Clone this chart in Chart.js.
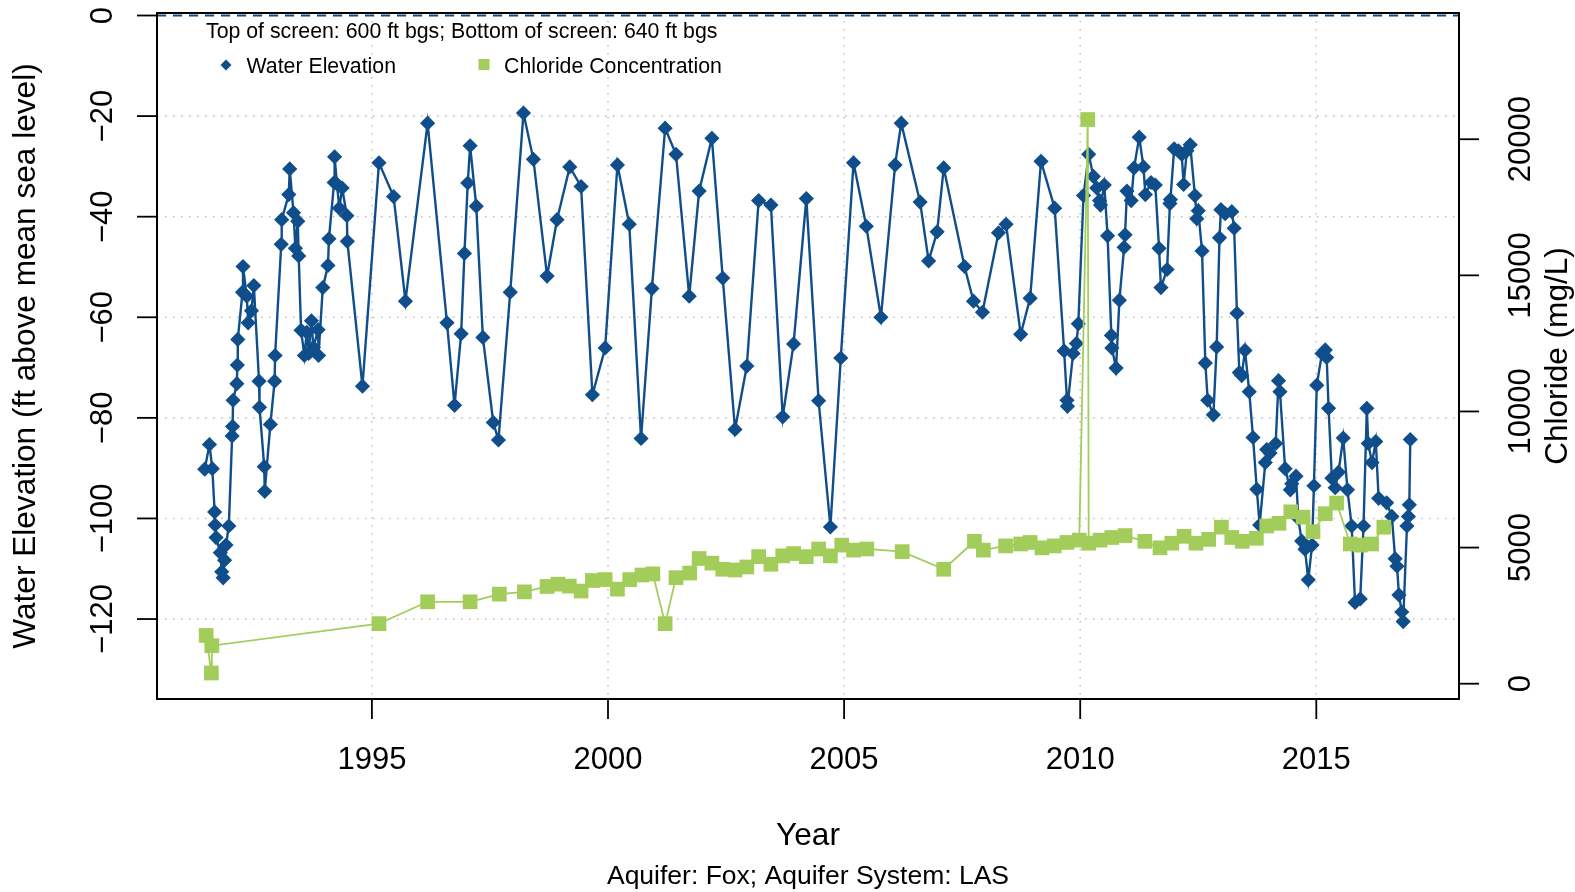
<!DOCTYPE html>
<html>
<head>
<meta charset="utf-8">
<script src="https://cdn.jsdelivr.net/npm/chart.js@4.4.1/dist/chart.umd.min.js"></script>
<style>
html,body{margin:0;padding:0;background:#ffffff;}
canvas{display:block;}
</style>
</head>
<body>
<canvas id="chart" width="1575" height="892"></canvas>
<script>
// ---- data (decimal years) ----
const waterYears = [1991.46,1991.56,1991.62,1991.67,1991.68,1991.70,1991.79,1991.82,1991.85,1991.88,1991.91,1991.97,1992.04,1992.05,1992.06,1992.14,1992.15,1992.16,1992.26,1992.27,1992.35,1992.38,1992.45,1992.50,1992.61,1992.62,1992.72,1992.73,1992.85,1992.94,1992.95,1993.08,1993.09,1993.24,1993.26,1993.34,1993.38,1993.43,1993.45,1993.50,1993.57,1993.62,1993.66,1993.72,1993.76,1993.86,1993.87,1993.96,1994.07,1994.09,1994.20,1994.21,1994.26,1994.31,1994.37,1994.47,1994.48,1994.80,1995.15,
1995.46,1995.71,1996.18,1996.59,1996.75,1996.89,1996.96,1997.03,1997.08,1997.21,1997.35,1997.57,1997.68,1997.93,1998.21,1998.42,1998.71,1998.92,1999.19,1999.43,1999.67,
1999.94,2000.20,2000.45,2000.70,2000.93,2001.21,2001.44,2001.72,2001.93,2002.20,2002.43,2002.69,2002.94,2003.19,2003.45,2003.70,2003.93,
2004.20,2004.46,2004.71,2004.93,2005.20,2005.47,2005.78,2006.08,2006.21,2006.61,2006.79,2006.97,2007.11,2007.55,2007.74,2007.93,2008.27,2008.43,
2008.74,2008.94,2009.17,2009.46,2009.66,2009.72,2009.73,2009.85,2009.92,2009.96,2010.07,2010.18,2010.28,2010.35,2010.41,2010.43,2010.51,2010.58,2010.66,2010.67,2010.76,2010.83,2010.93,2010.95,2010.99,2011.08,2011.14,2011.25,2011.34,2011.38,2011.50,2011.59,2011.67,2011.71,2011.84,2011.90,2011.91,2011.99,2012.08,2012.15,2012.19,2012.26,2012.33,2012.43,2012.47,2012.50,2012.58,2012.65,2012.70,2012.82,2012.89,2012.95,2012.98,
2013.07,2013.21,2013.26,2013.32,2013.37,2013.42,2013.49,2013.58,2013.66,2013.74,2013.80,2013.92,2013.95,2014.02,2014.14,2014.20,2014.23,2014.34,2014.45,2014.48,2014.57,2014.62,2014.69,2014.76,2014.83,2014.91,2014.95,2015.01,2015.12,2015.19,2015.22,2015.26,2015.33,2015.40,2015.47,2015.57,2015.66,2015.75,2015.82,2015.93,2016.00,2016.07,2016.10,2016.18,2016.26,2016.32,2016.49,2016.60,2016.67,2016.71,2016.75,2016.81,2016.84,2016.92,2016.95,2016.97,2016.99];

const waterLevels = [-90.2,-85.3,-90.1,-98.7,-101.3,-103.8,-106.8,-110.6,-111.8,-108.3,-105.3,-101.5,-83.6,-81.7,-76.5,-73.2,-69.5,-64.4,-55.0,-49.9,-55.8,-61.1,-58.7,-53.7,-72.7,-77.9,-89.7,-94.6,-81.3,-72.7,-67.6,-45.5,-40.6,-35.6,-30.5,-39.2,-46.3,-40.9,-47.8,-62.6,-67.6,-63.0,-67.2,-60.7,-66.0,-62.5,-67.6,-54.1,-49.7,-44.4,-33.2,-28.1,-33.5,-38.3,-34.3,-39.8,-44.9,-73.7,-29.3,
-36.0,-56.8,-21.4,-61.1,-77.5,-63.3,-47.3,-33.3,-25.9,-37.9,-64.0,-80.9,-84.4,-55.0,-19.4,-28.6,-51.8,-40.6,-30.1,-34.0,-75.4,
-66.1,-29.7,-41.5,-84.1,-54.3,-22.4,-27.6,-55.8,-34.9,-24.4,-52.2,-82.3,-69.7,-36.8,-37.7,-79.8,-65.3,
-36.4,-76.6,-101.7,-68.1,-29.3,-41.9,-60.0,-29.7,-21.4,-37.1,-48.8,-43.0,-30.3,-49.9,-56.8,-59.0,-43.2,-41.5,
-63.4,-56.2,-29.0,-38.3,-66.7,-76.5,-77.7,-67.2,-65.2,-61.3,-35.8,-27.6,-32.0,-34.3,-36.8,-37.7,-33.7,-43.8,-63.6,-66.1,-70.1,-56.6,-46.1,-43.6,-34.9,-36.8,-30.3,-24.2,-30.1,-35.6,-33.2,-33.7,-46.3,-54.1,-50.5,-37.4,-36.6,-26.5,-26.9,-27.6,-33.6,-26.9,-25.7,-35.8,-40.4,-38.8,-46.8,-69.1,-76.5,-79.4,-65.9,-44.2,-38.6,
-39.4,-39.0,-42.3,-59.2,-71.0,-71.6,-66.6,-74.8,-83.9,-94.2,-101.3,-88.9,-86.3,-87.0,-85.1,-72.6,-74.8,-90.1,-94.3,-93.1,-91.6,-100.0,-104.5,-106.1,-112.2,-105.3,-93.5,-73.5,-67.2,-66.5,-68.0,-78.1,-92.0,-93.9,-90.8,-84.0,-94.3,-101.5,-116.7,-116.0,-101.5,-78.1,-85.1,-88.9,-84.7,-96.0,-96.9,-99.6,-108.0,-109.5,-115.2,-118.6,-120.5,-101.5,-99.6,-97.3,-84.3];

const chlorideYears = [1991.49,1991.60,1991.61,1995.15,1996.18,1997.08,1997.70,1998.23,1998.71,1998.94,1999.18,1999.43,1999.67,1999.94,2000.20,2000.46,2000.72,2000.95,2001.21,2001.44,2001.73,2001.93,2002.20,2002.43,2002.69,2002.94,2003.19,2003.45,2003.70,2003.93,2004.20,2004.46,2004.71,2004.95,2005.20,2005.48,2006.23,2007.11,2007.76,2007.95,2008.42,2008.74,2008.94,2009.19,2009.45,2009.72,2009.98,2010.16,2010.18,2010.42,2010.67,2010.95,2011.37,2011.69,2011.94,2012.20,2012.45,2012.72,2012.99,2013.21,2013.43,2013.73,2013.95,2014.21,2014.46,2014.72,2014.93,2015.19,2015.43,2015.72,2015.93,2016.17,2016.43];

const chlorideValues = [1773,393,1395,2207,3009,3009,3290,3374,3571,3656,3585,3403,3790,3824,3473,3824,3993,4035,2207,3895,4063,4598,4429,4204,4176,4288,4668,4387,4696,4780,4668,4949,4696,5090,4907,4949,4851,4204,5230,4907,5062,5132,5188,4991,5062,5188,5273,20724,5160,5273,5371,5441,5230,4991,5160,5413,5160,5301,5750,5371,5230,5343,5793,5891,6313,6116,5582,6243,6636,5132,5090,5132,5750];

// ---- ticks / labels ----
const yearTicks = [1995, 2000, 2005, 2010, 2015];
const elevationTicks = [0, -20, -40, -60, -80, -100, -120];
const chlorideTicks = [0, 5000, 10000, 15000, 20000];
const xTitle = 'Year';
const subTitle = 'Aquifer: Fox; Aquifer System: LAS';
const leftTitle = 'Water Elevation (ft above mean sea level)';
const rightTitle = 'Chloride (mg/L)';
const screenNote = 'Top of screen: 600 ft bgs; Bottom of screen: 640 ft bgs';
const seriesNames = ['Water Elevation', 'Chloride Concentration'];

const BLUE = '#104E8B';
const GREEN = '#A2CD5A';
const FONT = '"Liberation Sans", Arial, Helvetica, sans-serif';

function fmt(v) { return v < 0 ? '\u2212' + String(-v) : String(v); }

const rPlot = {
  id: 'rPlot',
  beforeDatasetsDraw(chart) {
    const ctx = chart.ctx, a = chart.chartArea, x = chart.scales.x, y = chart.scales.y;
    ctx.save();
    ctx.strokeStyle = '#c4c4c4';
    ctx.lineWidth = 1.6;
    ctx.setLineDash([1.6, 6.4]);
    yearTicks.forEach(v => {
      const px = x.getPixelForValue(v);
      ctx.beginPath(); ctx.moveTo(px, a.top); ctx.lineTo(px, a.bottom); ctx.stroke();
    });
    elevationTicks.forEach(v => {
      const py = y.getPixelForValue(v);
      ctx.beginPath(); ctx.moveTo(a.left, py); ctx.lineTo(a.right, py); ctx.stroke();
    });
    // dashed zero line
    ctx.strokeStyle = BLUE;
    ctx.lineWidth = 2;
    ctx.setLineDash([9, 7]);
    const p0 = y.getPixelForValue(0);
    ctx.beginPath(); ctx.moveTo(a.left, p0); ctx.lineTo(a.right, p0); ctx.stroke();
    ctx.restore();
  },
  afterDraw(chart) {
    const ctx = chart.ctx, a = chart.chartArea;
    const x = chart.scales.x, y = chart.scales.y, y2 = chart.scales.y2;
    ctx.save();
    ctx.setLineDash([]);
    ctx.strokeStyle = '#000';
    ctx.fillStyle = '#000';
    // box
    ctx.lineWidth = 2;
    ctx.strokeRect(a.left, a.top, a.right - a.left, a.bottom - a.top);
    // ticks
    ctx.lineWidth = 1.8;
    yearTicks.forEach(v => {
      const px = x.getPixelForValue(v);
      ctx.beginPath(); ctx.moveTo(px, a.bottom); ctx.lineTo(px, a.bottom + 20); ctx.stroke();
    });
    elevationTicks.forEach(v => {
      const py = y.getPixelForValue(v);
      ctx.beginPath(); ctx.moveTo(a.left, py); ctx.lineTo(a.left - 20, py); ctx.stroke();
    });
    chlorideTicks.forEach(v => {
      const py = y2.getPixelForValue(v);
      ctx.beginPath(); ctx.moveTo(a.right, py); ctx.lineTo(a.right + 20, py); ctx.stroke();
    });
    // tick labels
    ctx.font = '31px ' + FONT;
    ctx.textAlign = 'center';
    ctx.textBaseline = 'alphabetic';
    yearTicks.forEach(v => {
      ctx.fillText(String(v), x.getPixelForValue(v), 769);
    });
    elevationTicks.forEach(v => {
      ctx.save();
      ctx.translate(a.left - 45, y.getPixelForValue(v));
      ctx.rotate(-Math.PI / 2);
      ctx.fillText(fmt(v), 0, 0);
      ctx.restore();
    });
    chlorideTicks.forEach(v => {
      ctx.save();
      ctx.translate(a.right + 71, y2.getPixelForValue(v));
      ctx.rotate(-Math.PI / 2);
      ctx.fillText(String(v), 0, 0);
      ctx.restore();
    });
    // axis titles
    ctx.font = '31.6px ' + FONT;
    const cy = (a.top + a.bottom) / 2;
    ctx.save(); ctx.translate(35, cy); ctx.rotate(-Math.PI / 2); ctx.fillText(leftTitle, 0, 0); ctx.restore();
    ctx.save(); ctx.translate(1567, cy); ctx.rotate(-Math.PI / 2); ctx.fillText(rightTitle, 0, 0); ctx.restore();
    const cx = (a.left + a.right) / 2;
    ctx.fillText(xTitle, cx, 844.5);
    ctx.font = '26.5px ' + FONT;
    ctx.fillText(subTitle, cx, 884);
    // legend
    ctx.font = '21.3px ' + FONT;
    ctx.textAlign = 'left';
    ctx.fillText(screenNote, 206, 37.5);
    ctx.fillStyle = BLUE;
    ctx.beginPath();
    ctx.moveTo(226 - 5.5, 65); ctx.lineTo(226, 59.5); ctx.lineTo(226 + 5.5, 65); ctx.lineTo(226, 70.5); ctx.closePath(); ctx.fill();
    ctx.fillStyle = GREEN;
    ctx.fillRect(484 - 5.5, 64.5 - 5.5, 11, 11);
    ctx.fillStyle = '#000';
    ctx.fillText(seriesNames[0], 246.5, 72.5);
    ctx.fillText(seriesNames[1], 504, 72.5);
    ctx.restore();
  }
};

new Chart(document.getElementById('chart'), {
  type: 'line',
  data: {
    datasets: [
      {
        label: seriesNames[1],
        data: chlorideYears.map((t, i) => ({x: t, y: chlorideValues[i]})),
        yAxisID: 'y2',
        borderColor: GREEN,
        backgroundColor: GREEN,
        borderWidth: 1.8,
        pointStyle: 'rect',
        pointRadius: 10.4,
        pointBorderWidth: 0,
        pointBackgroundColor: GREEN,
        tension: 0,
        fill: false,
        order: 0
      },
      {
        label: seriesNames[0],
        data: waterYears.map((t, i) => ({x: t, y: waterLevels[i]})),
        yAxisID: 'y',
        borderColor: BLUE,
        backgroundColor: BLUE,
        borderWidth: 2.4,
        pointStyle: 'rectRot',
        pointRadius: 7.6,
        pointBorderWidth: 0,
        pointBackgroundColor: BLUE,
        tension: 0,
        fill: false,
        order: 1
      }
    ]
  },
  options: {
    responsive: false,
    animation: false,
    devicePixelRatio: 1,
    layout: { padding: { left: 157, right: 116, top: 13, bottom: 193 } },
    plugins: { legend: { display: false }, tooltip: { enabled: false } },
    events: [],
    scales: {
      x: { type: 'linear', min: 1990.449, max: 2018.022, display: false },
      y: { type: 'linear', min: -135.9, max: 0.5, display: false },
      y2: { type: 'linear', position: 'right', min: -562, max: 24637, display: false }
    }
  },
  plugins: [rPlot]
});
</script>
</body>
</html>
